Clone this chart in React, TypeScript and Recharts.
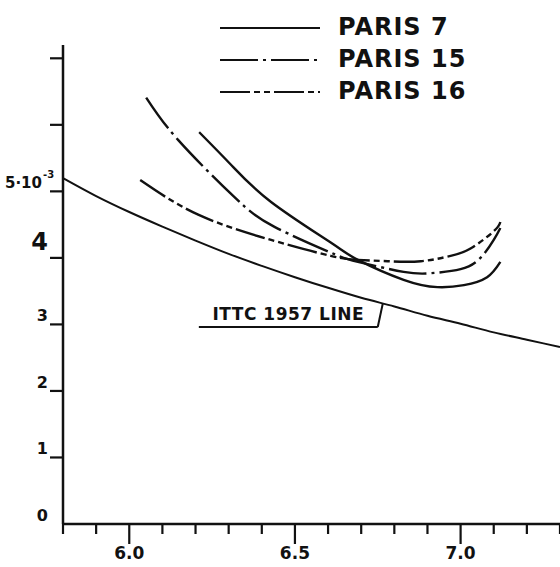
import { Legend, Line, LineChart, ReferenceDot, ReferenceLine, XAxis, YAxis } from 'recharts';

// log Re axis ticks and labels
const X_TICKS = [5.8, 5.9, 6.0, 6.1, 6.2, 6.3, 6.4, 6.5, 6.6, 6.7, 6.8, 6.9, 7.0, 7.1, 7.2, 7.3];
const X_LABELS = ['', '', '6.0', '', '', '', '', '6.5', '', '', '', '', '7.0', '', '', ''];

// Cf (x 10^-3) axis
const Y_TICKS = [0, 1, 2, 3, 4, 5, 6, 7];
const Y_LABELS = ['0', '1', '2', '3', '4', '5·10', '', ''];

// ITTC 1957 friction line
const ITTC_X = [5.8, 5.9, 6.0, 6.1, 6.2, 6.3, 6.4, 6.5, 6.6, 6.7, 6.8, 6.9, 7.0, 7.1, 7.2, 7.3];
const ITTC_Y = [5.2, 4.93, 4.69, 4.47, 4.26, 4.06, 3.88, 3.71, 3.55, 3.4, 3.27, 3.13, 3.01, 2.88, 2.77, 2.66];

// model curves
const PARIS7_X = [6.211, 6.307, 6.428, 6.608, 6.69, 6.828, 6.93, 7.01, 7.08, 7.12];
const PARIS7_Y = [5.89, 5.4, 4.84, 4.23, 3.97, 3.67, 3.56, 3.59, 3.71, 3.94];

const PARIS15_X = [6.051, 6.148, 6.316, 6.437, 6.608, 6.69, 6.828, 6.91, 7.0, 7.06, 7.1, 7.12];
const PARIS15_Y = [6.41, 5.77, 4.92, 4.47, 4.08, 3.94, 3.79, 3.77, 3.83, 4.0, 4.27, 4.45];

const PARIS16_X = [6.033, 6.208, 6.428, 6.608, 6.69, 6.78, 6.88, 6.97, 7.03, 7.1, 7.12];
const PARIS16_Y = [5.17, 4.65, 4.27, 4.03, 3.97, 3.95, 3.95, 4.03, 4.14, 4.4, 4.54];

const INK = '#111';
const FONT = '"DejaVu Sans", sans-serif';

const SERIES = [
  { name: 'PARIS 7', xs: PARIS7_X, ys: PARIS7_Y, dash: undefined as string | undefined },
  { name: 'PARIS 15', xs: PARIS15_X, ys: PARIS15_Y, dash: '38 5 3 5' },
  { name: 'PARIS 16', xs: PARIS16_X, ys: PARIS16_Y, dash: '30 4 6 4 6 4' },
];

const toPoints = (xs: number[], ys: number[]) => xs.map((x, i) => ({ x, y: ys[i] }));

function XTick(props: any) {
  const { x, y, index } = props;
  const label = X_LABELS[index];
  const len = label ? 20 : 10;
  return (
    <g>
      <line x1={x} x2={x} y1={y} y2={y + len} stroke={INK} strokeWidth={2.2} />
      {label && (
        <text x={x} y={y + 35} textAnchor="middle" fontSize={17} fontWeight="bold" fontFamily={FONT} fill={INK}>
          {label}
        </text>
      )}
    </g>
  );
}

function YTick(props: any) {
  const { x, y, index } = props;
  const label = Y_LABELS[index];
  const big = label === '4';
  const five = label.startsWith('5');
  return (
    <g>
      {index > 0 && <line x1={x - 13} x2={x} y1={y} y2={y} stroke={INK} strokeWidth={2.2} />}
      {label && (
        <text
          x={five ? x - 21 : x - 15}
          y={big ? y - 8 : y - 3}
          textAnchor="end"
          fontSize={big ? 24 : five ? 15 : 16}
          fontWeight="bold"
          fontFamily={FONT}
          fill={INK}
        >
          {label}
        </text>
      )}
      {five && (
        <text x={x - 20} y={y - 13} fontSize={10} fontWeight="bold" fontFamily={FONT} fill={INK}>
          -3
        </text>
      )}
    </g>
  );
}

function LegendBox() {
  return (
    <svg width={260} height={105}>
      {SERIES.map((s, i) => {
        const ly = [23, 55, 87][i];
        return (
          <g key={s.name}>
            <line x1={5} x2={105} y1={ly} y2={ly} stroke={INK} strokeWidth={2.2} strokeDasharray={s.dash} />
            <text x={123} y={ly + 7} fontSize={24} fontFamily={FONT} fontWeight="bold" fill={INK} letterSpacing={1}>
              {s.name}
            </text>
          </g>
        );
      })}
    </svg>
  );
}

export default function App() {
  return (
    <div style={{ position: 'absolute', left: 0, top: 0, width: 560, height: 567, background: '#fff', fontFamily: FONT }}>
      <LineChart width={560} height={567} margin={{ top: 45, right: 0, bottom: 0, left: 0 }}>
        <XAxis
          type="number"
          dataKey="x"
          domain={[5.8, 7.3]}
          ticks={X_TICKS}
          interval={0}
          height={43}
          tickSize={0}
          tickMargin={0}
          tickLine={false}
          axisLine={{ stroke: INK, strokeWidth: 2.5 }}
          tick={<XTick />}
          allowDataOverflow
        />
        <YAxis
          type="number"
          domain={[0, 7.2]}
          ticks={Y_TICKS}
          interval={0}
          width={63}
          tickSize={0}
          tickMargin={0}
          tickLine={false}
          axisLine={{ stroke: INK, strokeWidth: 2.5 }}
          tick={<YTick />}
          allowDataOverflow
        />
        <Legend
          layout="vertical"
          align="center"
          verticalAlign="middle"
          content={() => <LegendBox />}
          wrapperStyle={{ top: 5, left: 215, width: 260, height: 105 }}
        />
        <Line
          data={toPoints(ITTC_X, ITTC_Y)}
          dataKey="y"
          type="monotone"
          stroke={INK}
          strokeWidth={2}
          dot={false}
          activeDot={false}
          legendType="none"
          isAnimationActive={false}
        />
        {SERIES.map((s) => (
          <Line
            key={s.name}
            name={s.name}
            data={toPoints(s.xs, s.ys)}
            dataKey="y"
            type="natural"
            stroke={INK}
            strokeWidth={2.4}
            strokeDasharray={s.dash}
            dot={false}
            activeDot={false}
            isAnimationActive={false}
          />
        ))}
        <ReferenceLine segment={[{ x: 6.21, y: 2.96 }, { x: 6.75, y: 2.96 }]} stroke={INK} strokeWidth={2} />
        <ReferenceLine segment={[{ x: 6.75, y: 2.96 }, { x: 6.765, y: 3.31 }]} stroke={INK} strokeWidth={2} />
        <ReferenceDot
          x={6.48}
          y={3.15}
          r={0}
          shape={(p: any) => (
            <text x={p.cx} y={p.cy + 6} textAnchor="middle" fontSize={17} fontWeight="bold" fontFamily={FONT} fill={INK} letterSpacing={0.5}>
              ITTC 1957 LINE
            </text>
          )}
        />
      </LineChart>
    </div>
  );
}
